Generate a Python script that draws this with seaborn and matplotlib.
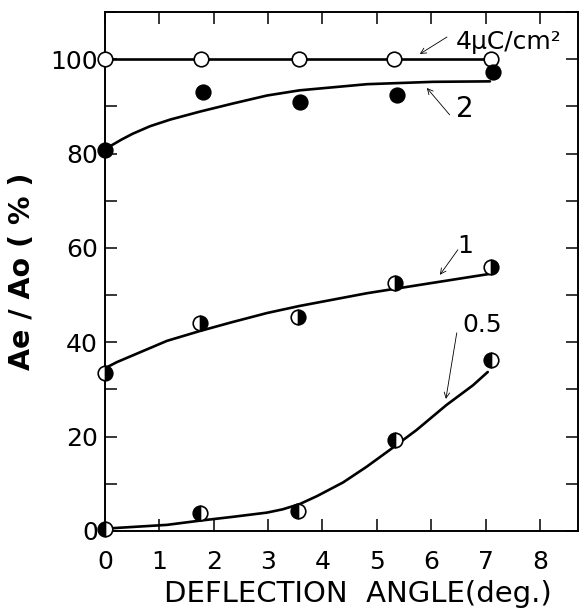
import numpy as np
import pandas as pd
import seaborn as sns
import matplotlib.pyplot as plt
from matplotlib.ticker import MultipleLocator

# measured points (deflection angle in deg., Ae/Ao in %)
x_4 = [0, 1.76, 3.56, 5.32, 7.1]
y_4 = [100, 100, 100, 100, 100]
x_2 = [0, 1.8, 3.58, 5.37, 7.13]
y_2 = [80.8, 93.0, 90.9, 92.4, 97.3]
x_1 = [0, 1.75, 3.55, 5.33, 7.1]
y_1 = [33.5, 44.1, 45.4, 52.6, 56.0]
x_05 = [0, 1.75, 3.55, 5.33, 7.1]
y_05 = [0.5, 3.8, 4.2, 19.3, 36.2]

# hand drawn curves
cx_4 = [0, 7.1]
cy_4 = [100, 100]
cx_2 = [0, 0.13, 0.31, 0.51, 0.83, 1.2, 1.75, 2.35, 2.98, 3.58, 4.82, 6.03, 7.08]
cy_2 = [80.8, 81.8, 83.0, 84.2, 85.8, 87.2, 88.9, 90.6, 92.3, 93.4, 94.7, 95.2, 95.3]
cx_1 = [0, 0.22, 1.14, 1.75, 2.35, 2.98, 3.58, 4.82, 6.03, 7.08]
cy_1 = [34.5, 35.8, 40.3, 42.4, 44.3, 46.2, 47.7, 50.4, 52.6, 54.5]
cx_05 = [0, 1.14, 1.75, 2.35, 2.98, 3.27, 3.58, 3.9, 4.38, 4.81, 5.24, 5.73, 6.28, 6.77, 7.04]
cy_05 = [0.5, 1.3, 2.2, 3.0, 3.9, 4.6, 5.7, 7.4, 10.3, 13.6, 17.2, 21.4, 26.7, 30.9, 33.7]

x_ticks = [0, 1, 2, 3, 4, 5, 6, 7, 8]
y_ticks = [0, 20, 40, 60, 80, 100]

sns.set_style('ticks', {'xtick.direction': 'in', 'ytick.direction': 'in'})
plt.rcParams['font.family'] = ['DejaVu Sans']
plt.rcParams['text.color'] = 'k'
plt.rcParams['axes.labelcolor'] = 'k'
plt.rcParams['xtick.color'] = 'k'
plt.rcParams['ytick.color'] = 'k'

fig = plt.figure(figsize=(5.8, 6.08), dpi=100)
ax = fig.add_axes([105 / 580, 77 / 608, 473 / 580, 519 / 608])

curves = [(cx_4, cy_4), (cx_2, cy_2), (cx_1, cy_1), (cx_05, cy_05)]
for cx, cy in curves:
    sns.lineplot(x=cx, y=cy, sort=False, estimator=None, color='k', lw=1.9, ax=ax, zorder=2)

# markers: open, filled, right-half filled, left-half filled
mk = dict(marker='o', markersize=10.5, linestyle='', markeredgecolor='k',
          markeredgewidth=1.2, color='k', clip_on=False, zorder=3)
sns.lineplot(x=x_4, y=y_4, sort=False, estimator=None, ax=ax,
             markerfacecolor='white', **mk)
sns.lineplot(x=x_2, y=y_2, sort=False, estimator=None, ax=ax,
             markerfacecolor='k', **mk)
sns.lineplot(x=x_1, y=y_1, sort=False, estimator=None, ax=ax, fillstyle='right',
             markerfacecolor='k', markerfacecoloralt='white', **mk)
sns.lineplot(x=x_05, y=y_05, sort=False, estimator=None, ax=ax, fillstyle='left',
             markerfacecolor='k', markerfacecoloralt='white', **mk)

ax.set_xlim(0, 8.7)
ax.set_ylim(0, 110)
ax.set_xticks(x_ticks)
ax.set_xticklabels([str(t) for t in x_ticks])
ax.set_yticks(y_ticks)
ax.set_yticklabels([str(t) for t in y_ticks])
ax.yaxis.set_minor_locator(MultipleLocator(10))
ax.tick_params(which='both', direction='in', top=True, right=True,
               length=8.5, width=1.1, color='k')
ax.tick_params(axis='x', labelsize=18, pad=14)
ax.tick_params(axis='y', labelsize=18, pad=5)
for s in ax.spines.values():
    s.set_linewidth(1.4)
    s.set_color('k')

ax.set_xlabel('DEFLECTION  ANGLE(deg.)', fontsize=21)
ax.set_ylabel('Ae / Ao ( % )', fontsize=20.5, fontweight='bold')
ax.xaxis.set_label_coords(0.535, -0.095)
ax.yaxis.set_label_coords(-0.145, 0.5)

arw = dict(arrowstyle='->', lw=0.6, color='k', shrinkA=0, shrinkB=0)
ax.text(7.43, 103.6, '4μC/cm²', fontsize=18, ha='center', va='center')
ax.annotate('', xy=(5.79, 101.1), xytext=(6.29, 104.7), arrowprops=arw)
ax.text(6.62, 89.4, '2', fontsize=20, ha='center', va='center')
ax.annotate('', xy=(5.92, 93.9), xytext=(6.34, 88.2), arrowprops=arw)
ax.text(6.62, 60.4, '1', fontsize=18, ha='center', va='center')
ax.annotate('', xy=(6.16, 54.3), xytext=(6.49, 59.6), arrowprops=arw)
ax.text(6.93, 43.7, '0.5', fontsize=18, ha='center', va='center')
ax.annotate('', xy=(6.27, 28.0), xytext=(6.47, 42.0), arrowprops=arw)

plt.savefig('out.png', dpi=100)
